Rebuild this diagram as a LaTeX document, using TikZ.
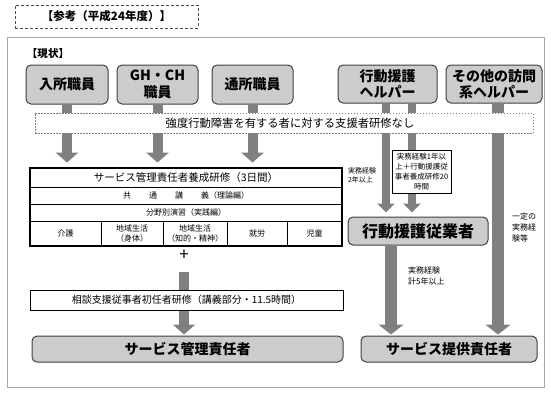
\documentclass[tikz,border=0pt]{standalone}
\usepackage{fontspec}
\setmainfont{Noto Sans CJK JP}
\usetikzlibrary{arrows.meta,calc}
\pgfdeclarelayer{bg}
\pgfsetlayers{bg,main}
\newcommand{\fs}[1]{\fontsize{#1}{#1}\selectfont}
\tikzset{
  gbox/.style={draw=black!75, line width=1pt, rounded corners=5pt, fill=gray!40,
    align=center, inner sep=0pt, font=\bfseries\fontsize{14}{16.5}\selectfont},
  wbox/.style={draw=black, line width=0.7pt, fill=white, align=center, inner sep=0pt},
  cellbox/.style={draw=black, line width=0.8pt, fill=white, align=center, inner sep=0pt,
    font=\fontsize{8}{10}\selectfont},
  plain/.style={inner sep=0pt, align=center},
  fat/.style={draw=gray, line width=10pt, -{Triangle[width=22pt,length=10pt]}},
  fatS/.style={draw=gray, line width=8pt, -{Triangle[width=17pt,length=9pt]}},
  fatL/.style={draw=gray, line width=12pt, -{Triangle[width=25pt,length=10pt]}},
}
\begin{document}
\begin{tikzpicture}[x=1pt,y=-1pt]
\useasboundingbox (0,0) rectangle (551,400);
% title and frame
\node[draw=black!70, line width=1pt, dash pattern=on 3pt off 2pt, minimum width=183pt,
  minimum height=23pt, inner sep=0pt, font=\bfseries\fs{11.5}] (ttl) at (106.5,16.5)
  {【参考（平成24年度）】};
\node[draw=gray!70, line width=0.8pt, minimum width=537pt, minimum height=350pt, inner sep=0pt]
  (frame) at (275.5,212) {};
\node[plain, font=\bfseries\fs{10.5}] (now) at (48,54) {【現状】};
% top boxes
\node[gbox, minimum width=82pt, minimum height=39pt] (n1) at (67,84.5) {入所職員};
\node[gbox, minimum width=81pt, minimum height=39pt] (n2) at (157.5,84.5) {GH・CH\\職員};
\node[gbox, minimum width=81pt, minimum height=39pt] (n3) at (252.5,84.5) {通所職員};
\node[gbox, minimum width=99pt, minimum height=38pt] (n4) at (387.5,84) {行動援護\\ヘルパー};
\node[gbox, minimum width=96pt, minimum height=38pt] (n5) at (494,84) {その他の訪問\\系ヘルパー};
% dashed band
\node[draw=gray, fill=white, line width=0.6pt, dash pattern=on 1.5pt off 1.5pt,
  minimum width=498pt, minimum height=20pt, inner sep=0pt, font=\fs{11.3}]
  (none) at (284,123) {\hspace{12pt}強度行動障害を有する者に対する支援者研修なし};
% table
\node[cellbox, minimum width=312pt, minimum height=19pt, font=\fs{10.5}] (tt) at (186,177.5)
  {サービス管理責任者養成研修（3日間）};
\node[cellbox, minimum width=312pt, minimum height=17pt] (r2) at (186,195.5)
  {共\hspace{18pt}通\hspace{18pt}講\hspace{18pt}義（理論編）};
\node[cellbox, minimum width=312pt, minimum height=17pt] (r3) at (186,212.5)
  {分野別演習（実践編）};
\node[cellbox, minimum width=71pt, minimum height=25pt] (c1) at (65.5,233.5) {介護};
\node[cellbox, minimum width=62pt, minimum height=25pt] (c2) at (132,233.5) {地域生活\\（身体）};
\node[cellbox, minimum width=64pt, minimum height=25pt] (c3) at (195,233.5) {地域生活\\（知的・精神）};
\node[cellbox, minimum width=60pt, minimum height=25pt] (c4) at (257,233.5) {就労};
\node[cellbox, minimum width=55pt, minimum height=25pt] (c5) at (314.5,233.5) {児童};
\draw[line width=2pt] (tt.north west) rectangle (c5.south east);
\node[plain, font=\fs{17}] (plus) at (184,255) {+};
\node[wbox, minimum width=313pt, minimum height=20pt, font=\fs{10}] (sd) at (186.5,300)
  {相談支援従事者初任者研修（講義部分・11.5時間）};
\node[gbox, minimum width=311pt, minimum height=26pt] (sk) at (187.5,349) {サービス管理責任者};
% right side
\node[wbox, minimum width=59pt, minimum height=43pt, font=\fontsize{7.5}{10}\selectfont]
  (ex1) at (421.5,171.5) {実務経験1年以\\上＋行動援護従\\事者養成研修20\\時間};
\node[plain, font=\fontsize{7}{9}\selectfont, align=left] (ex2) at (362,175) {実務経験\\2年以上};
\node[gbox, minimum width=140pt, minimum height=28pt, font=\bfseries\fs{16}] (emp) at (418,231)
  {行動援護従業者};
\node[plain, anchor=west, font=\fontsize{8}{11}\selectfont, align=left] (ex3) at (408,276)
  {実務経験\\計5年以上};
\node[plain, font=\fontsize{8}{11}\selectfont, align=left] (ex4) at (524,227) {一定の\\実務経\\験等};
\node[gbox, minimum width=176pt, minimum height=26pt] (sp) at (449,349) {サービス提供責任者};
\coordinate (hx1) at (386,0);
\coordinate (hx2) at (412,0);
\coordinate (lx) at (391,0);
\coordinate (rx) at (498,0);
% arrows
\begin{pgfonlayer}{bg}
\draw[fat, shorten >=5pt] (n1.south) -- (n1.south |- tt.north);
\draw[fat, shorten >=5pt] (n2.south) -- (n2.south |- tt.north);
\draw[fat, shorten >=5pt] (n3.south) -- (n3.south |- tt.north);
\draw[fatS, shorten >=4pt] (n4.south -| hx1) -- (emp.north -| hx1);
\draw[fatS, shorten >=4pt] (n4.south -| hx2) -- (emp.north -| hx2);
\draw[fatL, shorten >=1pt] (emp.south -| lx) -- (sp.north -| lx);
\draw[fatL, shorten >=1pt] (n5.south -| rx) -- (sp.north -| rx);
\draw[fat, shorten <=12pt, shorten >=1pt] (plus.south) -- (plus.south |- sk.north);
\end{pgfonlayer}
\end{tikzpicture}
\end{document}
